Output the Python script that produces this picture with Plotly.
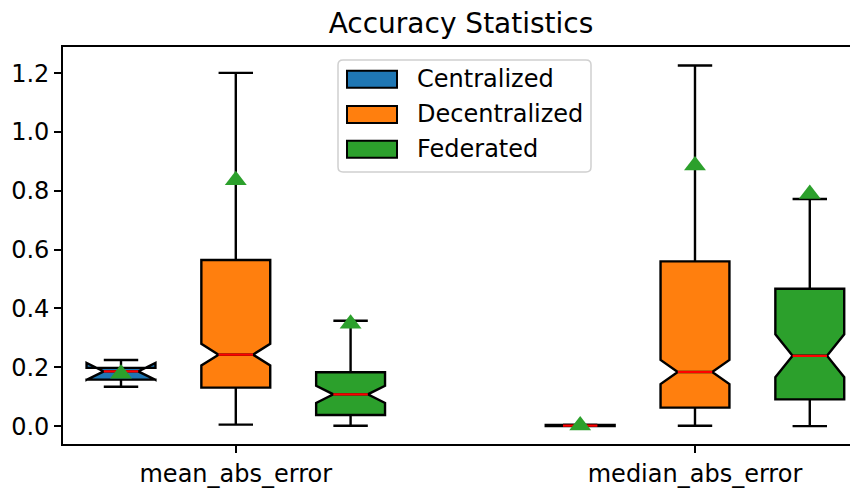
import plotly.graph_objects as go

# ---------------- data ----------------
categories = ["mean_abs_error", "median_abs_error"]
methods = ["Centralized", "Decentralized", "Federated"]
colors = ["#1f77b4", "#ff7f0e", "#2ca02c"]

q1_vals = {
    "Centralized": [0.158, 0.000],
    "Decentralized": [0.131, 0.063],
    "Federated": [0.038, 0.091],
}
median_vals = {
    "Centralized": [0.186, 0.002],
    "Decentralized": [0.243, 0.184],
    "Federated": [0.108, 0.239],
}
q3_vals = {
    "Centralized": [0.198, 0.004],
    "Decentralized": [0.565, 0.560],
    "Federated": [0.183, 0.467],
}
lower_whisker = {
    "Centralized": [0.134, 0.000],
    "Decentralized": [0.005, 0.001],
    "Federated": [0.001, 0.000],
}
upper_whisker = {
    "Centralized": [0.225, 0.005],
    "Decentralized": [1.201, 1.226],
    "Federated": [0.358, 0.772],
}
mean_vals = {
    "Centralized": [0.178, 0.002],
    "Decentralized": [0.836, 0.886],
    "Federated": [0.348, 0.789],
}
notch_half = {
    "Centralized": [0.029, 0.001],
    "Decentralized": [0.037, 0.041],
    "Federated": [0.029, 0.073],
}
y_ticks = [0.0, 0.2, 0.4, 0.6, 0.8, 1.0, 1.2]

# ---------------- styling / layout constants ----------------
PAGE_OFF = 8                      # default body margin of the html page
PAGE_W, PAGE_H = 858, 488
W, H = PAGE_W - PAGE_OFF, PAGE_H - PAGE_OFF
# plot area in page pixels
PL, PR, PT, PB = 63, 858, 47, 447
ML, MR, MT, MB = PL - PAGE_OFF, PAGE_W - PR, PT - PAGE_OFF, PAGE_H - PB
offsets = [-0.25, 0.0, 0.25]
box_w = 0.15
FONT = "DejaVu Sans"
FS = 24


def X(px):
    return (px - PL) / (PR - PL)


def Y(py):
    return (PB - py) / (PB - PT)


fig = go.Figure()
group_pos = [i + 1 for i in range(len(categories))]

for k, m in enumerate(methods):
    xs = [g + offsets[k] for g in group_pos]
    fig.add_trace(go.Box(
        name=m,
        x=xs,
        q1=q1_vals[m],
        median=median_vals[m],
        q3=q3_vals[m],
        lowerfence=lower_whisker[m],
        upperfence=upper_whisker[m],
        notchspan=notch_half[m],
        notched=True,
        notchwidth=0.25,
        width=box_w,
        whiskerwidth=0.5,
        fillcolor=colors[k],
        line=dict(color="black", width=2.4),
        boxpoints=False,
        showlegend=False,
        hoverinfo="skip",
    ))

# red median lines
for k, m in enumerate(methods):
    lx, ly = [], []
    for j, g in enumerate(group_pos):
        p = g + offsets[k]
        med = median_vals[m][j]
        lx += [p - box_w * 0.25, p + box_w * 0.25, None]
        ly += [med, med, None]
    fig.add_trace(go.Scatter(x=lx, y=ly, mode="lines",
                             line=dict(color="red", width=2.2),
                             showlegend=False, hoverinfo="skip"))

# mean markers
for k, m in enumerate(methods):
    xs = [g + offsets[k] for g in group_pos]
    fig.add_trace(go.Scatter(x=xs, y=mean_vals[m], mode="markers",
                             marker=dict(symbol="triangle-up", size=19,
                                         color="#2ca02c", line=dict(width=0)),
                             showlegend=False, hoverinfo="skip"))

# ---------------- manual legend (matplotlib style) ----------------
shapes = []
lx0, lx1, ly0, ly1, r = 338, 591, 60, 173, 5
path = (f"M {X(lx0 + r)},{Y(ly0)} L {X(lx1 - r)},{Y(ly0)} "
        f"Q {X(lx1)},{Y(ly0)} {X(lx1)},{Y(ly0 + r)} "
        f"L {X(lx1)},{Y(ly1 - r)} Q {X(lx1)},{Y(ly1)} {X(lx1 - r)},{Y(ly1)} "
        f"L {X(lx0 + r)},{Y(ly1)} Q {X(lx0)},{Y(ly1)} {X(lx0)},{Y(ly1 - r)} "
        f"L {X(lx0)},{Y(ly0 + r)} Q {X(lx0)},{Y(ly0)} {X(lx0 + r)},{Y(ly0)} Z")
shapes.append(dict(type="path", xref="paper", yref="paper", path=path,
                   line=dict(color="#d0d0d0", width=1.5),
                   fillcolor="rgba(255,255,255,0.8)"))
annotations = []
row_centers = [79.5, 115, 150]
for k, m in enumerate(methods):
    cy = row_centers[k]
    shapes.append(dict(type="rect", xref="paper", yref="paper",
                       x0=X(347), x1=X(397), y0=Y(cy - 8.5), y1=Y(cy + 8.5),
                       fillcolor=colors[k], line=dict(color="black", width=2)))
    annotations.append(dict(text=m, xref="paper", yref="paper",
                            x=X(415), y=Y(cy), xanchor="left", yanchor="middle",
                            showarrow=False,
                            font=dict(family=FONT, size=FS, color="black")))

fig.update_layout(
    width=W, height=H,
    margin=dict(l=ML, r=MR, t=MT, b=MB, pad=0),
    paper_bgcolor="white", plot_bgcolor="white",
    boxmode="overlay",
    font=dict(family=FONT, size=FS, color="black"),
    title=dict(text="Accuracy Statistics", x=X(461), xref="paper",
               xanchor="center", y=1 - (23 - PAGE_OFF) / H, yref="container",
               yanchor="middle", font=dict(family=FONT, size=28, color="black")),
    shapes=shapes,
    annotations=annotations,
    showlegend=False,
)
fig.update_xaxes(range=[0.6237, 2.355], tickvals=group_pos, ticktext=categories,
                 showline=True, mirror=True, linecolor="black", linewidth=1.8,
                 ticks="outside", ticklen=7, tickwidth=1.8, tickcolor="black",
                 showgrid=False, zeroline=False,
                 tickfont=dict(family=FONT, size=FS, color="black"))
fig.update_yaxes(range=[-0.0608, 1.289], tickvals=y_ticks,
                 ticktext=[f"{v:.1f}" for v in y_ticks],
                 showline=True, mirror=False, linecolor="black", linewidth=1.8,
                 ticks="outside", ticklen=7, tickwidth=1.8, tickcolor="black",
                 showgrid=False, zeroline=False,
                 tickfont=dict(family=FONT, size=FS, color="black"))

fig.write_html("out.html")
